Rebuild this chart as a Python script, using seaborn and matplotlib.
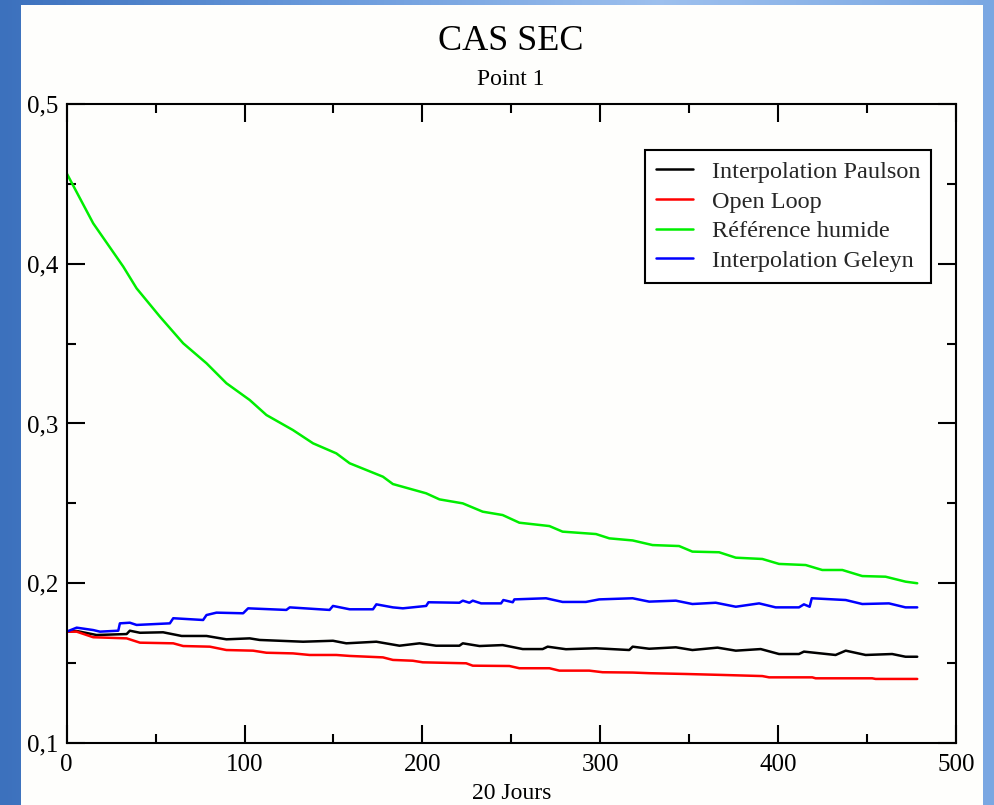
import numpy as np
import pandas as pd
import matplotlib
matplotlib.use("Agg")
import matplotlib.pyplot as plt
import seaborn as sns
from matplotlib.ticker import MultipleLocator, FuncFormatter
from matplotlib.patches import Rectangle
from matplotlib.colors import LinearSegmentedColormap

# ---- data ---------------------------------------------------------------
series_names = ["Interpolation Paulson", "Open Loop", "Référence humide", "Interpolation Geleyn"]
series_colors = ["#000000", "#ff0000", "#00ee00", "#0000ff"]

paulson_x = [0, 5.6, 16.8, 33.7, 35.5, 41.2, 54.2, 64.6, 78.6, 89.8, 102.9, 108.5, 132.9,
             149.7, 157.2, 174.1, 187.1, 198.4, 207.7, 220.8, 222.7, 232.1, 245.1, 256.4,
             267.6, 270.4, 280.7, 297.6, 316.3, 318.2, 327.5, 342.5, 351.8, 365.9, 376.2,
             390.2, 400.5, 411.7, 414.5, 432.3, 438.0, 449.2, 464.1, 471.6, 478.2]
paulson_y = [0.1697, 0.1701, 0.1676, 0.1682, 0.1703, 0.1690, 0.1693, 0.1670, 0.1670, 0.1649,
             0.1655, 0.1645, 0.1634, 0.1640, 0.1624, 0.1634, 0.1609, 0.1624, 0.1609, 0.1609,
             0.1624, 0.1607, 0.1613, 0.1588, 0.1588, 0.1603, 0.1587, 0.1593, 0.1582, 0.1603,
             0.1590, 0.1599, 0.1582, 0.1597, 0.1578, 0.1588, 0.1557, 0.1557, 0.1572, 0.1551,
             0.1578, 0.1551, 0.1557, 0.1540, 0.1540]

openloop_x = [0, 5.6, 14.9, 33.7, 41.2, 59.9, 65.5, 80.5, 89.8, 104.8, 112.3, 127.2, 136.6,
              151.6, 159.1, 177.8, 183.4, 194.6, 200.2, 224.6, 228.3, 248.9, 254.5, 271.4,
              277.0, 293.8, 301.3, 318.2, 327.5, 348.1, 368.7, 391.1, 394.9, 419.2, 421.1,
              452.9, 454.8, 478.2]
openloop_y = [0.1697, 0.1697, 0.1662, 0.1655, 0.1628, 0.1624, 0.1607, 0.1603, 0.1582, 0.1578,
              0.1565, 0.1561, 0.1551, 0.1551, 0.1545, 0.1536, 0.1520, 0.1515, 0.1505, 0.1499,
              0.1484, 0.1482, 0.1468, 0.1468, 0.1453, 0.1453, 0.1443, 0.1441, 0.1437, 0.1432,
              0.1426, 0.1419, 0.1411, 0.1411, 0.1405, 0.1405, 0.1401, 0.1401]

humide_x = [0, 14.9, 31.8, 39.3, 52.4, 65.5, 78.6, 89.8, 102.9, 112.3, 127.2, 138.5, 151.6,
            159.1, 177.8, 183.4, 202.1, 209.6, 222.7, 233.9, 245.1, 254.5, 271.4, 278.8,
            297.6, 305.1, 318.2, 329.4, 344.3, 351.8, 366.8, 376.2, 391.1, 400.5, 415.5,
            424.8, 436.1, 447.3, 460.4, 471.6, 478.2]
humide_y = [0.4566, 0.4253, 0.3982, 0.3846, 0.3669, 0.3502, 0.3377, 0.3252, 0.3147, 0.3053,
            0.2959, 0.2876, 0.2813, 0.2751, 0.2667, 0.2621, 0.2563, 0.2525, 0.2500, 0.2448,
            0.2427, 0.2379, 0.2358, 0.2323, 0.2308, 0.2281, 0.2268, 0.2239, 0.2233, 0.2198,
            0.2194, 0.2160, 0.2152, 0.2121, 0.2114, 0.2083, 0.2083, 0.2045, 0.2041, 0.2010,
            0.2000]

geleyn_x = [0, 5.6, 14.9, 18.7, 29.0, 29.9, 35.5, 39.3, 58.0, 59.9, 76.7, 78.6, 84.2, 99.2,
            102.0, 123.5, 125.4, 147.8, 149.7, 159.1, 172.2, 174.1, 183.4, 189.0, 202.1,
            203.4, 220.8, 222.7, 226.4, 228.3, 233.0, 244.2, 245.5, 250.8, 251.7, 269.5,
            278.8, 291.9, 299.4, 318.2, 327.5, 342.5, 351.8, 364.9, 376.2, 389.3, 398.6,
            411.7, 414.5, 417.7, 418.9, 438.0, 447.3, 462.3, 471.6, 478.2]
geleyn_y = [0.1697, 0.1722, 0.1707, 0.1697, 0.1703, 0.1749, 0.1753, 0.1739, 0.1749, 0.1781,
            0.1770, 0.1801, 0.1816, 0.1812, 0.1843, 0.1833, 0.1849, 0.1833, 0.1858, 0.1837,
            0.1837, 0.1868, 0.1849, 0.1843, 0.1858, 0.1881, 0.1878, 0.1891, 0.1878, 0.1891,
            0.1874, 0.1874, 0.1895, 0.1881, 0.1899, 0.1906, 0.1883, 0.1883, 0.1899, 0.1906,
            0.1885, 0.1891, 0.1870, 0.1878, 0.1853, 0.1874, 0.1849, 0.1849, 0.1868, 0.1853,
            0.1906, 0.1895, 0.1870, 0.1874, 0.1849, 0.1849]

x_ticks = [0, 100, 200, 300, 400, 500]
y_ticks = [0.1, 0.2, 0.3, 0.4, 0.5]

frames = []
for name, xs, ys in zip(series_names,
                        [paulson_x, openloop_x, humide_x, geleyn_x],
                        [paulson_y, openloop_y, humide_y, geleyn_y]):
    frames.append(pd.DataFrame({"jour": xs, "valeur": ys, "serie": name}))
df = pd.concat(frames, ignore_index=True)

# ---- style --------------------------------------------------------------
sns.set_theme(style="white")
plt.rcParams["font.family"] = ["Liberation Serif", "DejaVu Serif"]

W, H = 994, 805
fig = plt.figure(figsize=(W / 100, H / 100), dpi=100)

# sky-blue backdrop with white sheet
bg = fig.add_axes([0, 0, 1, 1])
bg.set_zorder(-5)
sky = LinearSegmentedColormap.from_list("sky", ["#3c71bd", "#6b9bdc", "#9dc0ee", "#7aa7e2"])
grad = np.tile(np.linspace(0, 1, 256), (16, 1))
bg.imshow(grad, cmap=sky, aspect="auto", extent=[0, 1, 0, 1])
bg.add_patch(Rectangle((21 / W, 0), (983 - 21) / W, 1 - 5 / H,
                       facecolor="#fefefc", edgecolor="none"))
bg.set_xlim(0, 1)
bg.set_ylim(0, 1)
bg.axis("off")

ax = fig.add_axes([66.7 / W, 1 - 743 / H, (956 - 66.7) / W, (743 - 104) / H])
ax.set_facecolor("#fefefc")

sns.lineplot(data=df, x="jour", y="valeur", hue="serie", hue_order=series_names,
             palette=series_colors, estimator=None, sort=False, linewidth=1.8, ax=ax)

ax.set_xlim(0, 500)
ax.set_ylim(0.1, 0.5)
ax.xaxis.set_minor_locator(MultipleLocator(50))
ax.yaxis.set_minor_locator(MultipleLocator(0.05))
ax.set_xticks(x_ticks)
ax.set_yticks(y_ticks)
ax.yaxis.set_major_formatter(FuncFormatter(lambda v, p: f"{v:.1f}".replace(".", ",")))

for s in ax.spines.values():
    s.set_visible(True)
    s.set_color("black")
    s.set_linewidth(1.5)

ax.tick_params(which="both", direction="in", top=True, right=True, bottom=True, left=True,
               color="black", width=1.5, labelsize=18, labelcolor="black")
ax.tick_params(which="major", length=13, pad=6)
ax.tick_params(axis="x", which="major", pad=8)
ax.tick_params(which="minor", length=6.5)

ax.set_xlabel("20 Jours", fontsize=17, labelpad=5, color="black")
ax.set_ylabel("")

fig.text(0.514, 0.948, "CAS SEC", ha="center", va="center", fontsize=26, color="black")
fig.text(0.514, 0.901, "Point 1", ha="center", va="center", fontsize=17, color="black")

leg = ax.legend(loc="upper right", bbox_to_anchor=(0.972, 0.928), borderaxespad=0,
                fontsize=17.5, frameon=True, fancybox=False, framealpha=1,
                edgecolor="black", handlelength=1.55, handletextpad=0.75,
                labelspacing=0.31, borderpad=0.45, title=None)
leg.get_frame().set_linewidth(1.5)
for line in leg.get_lines():
    line.set_linewidth(1.8)

fig.savefig("out.png", dpi=100, facecolor=fig.get_facecolor())
